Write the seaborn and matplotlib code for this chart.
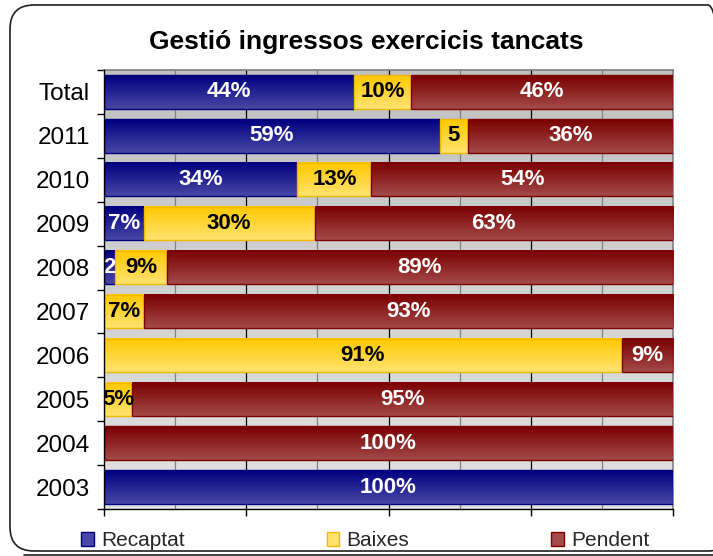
import numpy as np
import pandas as pd
import seaborn as sns
import matplotlib
matplotlib.use("Agg")
import matplotlib.pyplot as plt
from matplotlib.patches import FancyBboxPatch, Patch
from matplotlib.lines import Line2D
from matplotlib.transforms import IdentityTransform
from matplotlib.colors import to_rgb

# ---- data -------------------------------------------------------------
categories = ["Total", "2011", "2010", "2009", "2008", "2007", "2006", "2005", "2004", "2003"]
recaptat = [44, 59, 34, 7, 2, 0, 0, 0, 0, 100]
baixes = [10, 5, 13, 30, 9, 7, 91, 5, 0, 0]
pendent = [46, 36, 54, 63, 89, 93, 9, 95, 100, 0]
labels_recaptat = ["44%", "59%", "34%", "7%", "2", "", "", "", "", "100%"]
labels_baixes = ["10%", "5", "13%", "30%", "9%", "7%", "91%", "5%", "", ""]
labels_pendent = ["46%", "36%", "54%", "63%", "89%", "93%", "9%", "95%", "100%", ""]
series_names = ["Recaptat", "Baixes", "Pendent"]
title = "Gestió ingressos exercicis tancats"

# gradient (top, bottom) and edge colours for each series
grad_colors = {
    "Recaptat": ("#000080", "#4848a6"),
    "Baixes": ("#ffc800", "#ffe270"),
    "Pendent": ("#7a0000", "#a44a4a"),
}
edge_colors = {"Recaptat": "#000080", "Baixes": "#f2b800", "Pendent": "#800000"}
text_colors = {"Recaptat": "white", "Baixes": "black", "Pendent": "white"}

sns.set_theme(style="white")
plt.rcParams["font.family"] = ["Liberation Sans", "DejaVu Sans"]

W, H = 713, 556
fig = plt.figure(figsize=(W / 100, H / 100), dpi=100)
ax = fig.add_axes([104 / W, 1 - 509 / H, 569 / W, 439 / H])

df = pd.DataFrame({
    "categoria": categories,
    "Recaptat": recaptat,
    "Baixes": baixes,
    "Pendent": pendent,
})
series_labels = {"Recaptat": labels_recaptat, "Baixes": labels_baixes, "Pendent": labels_pendent}

bar_width = 0.76
left = np.zeros(len(categories))
layers = []
for name in series_names:
    n_before = len(ax.patches)
    sns.barplot(data=df, x=name, y="categoria", order=categories, orient="h",
                color=grad_colors[name][0], saturation=1, width=bar_width,
                left=left.copy(), edgecolor=edge_colors[name], linewidth=1.0, ax=ax)
    layers.append((name, ax.patches[n_before:]))
    left = left + df[name].to_numpy()

ax.set_xlim(0, 100)
ax.set_ylim(len(categories) - 0.5, -0.5)

# vertical gradient fill for every bar segment
def gradient(top, bottom, n=64):
    t = np.linspace(0, 1, n)[:, None]
    c0, c1 = np.array(to_rgb(top)), np.array(to_rgb(bottom))
    return (c0[None, None, :] * (1 - t[..., None]) + c1[None, None, :] * t[..., None])

for k, (name, patches) in enumerate(layers):
    img = gradient(*grad_colors[name])
    for p, lab in zip(patches, series_labels[name]):
        w = p.get_width()
        if w <= 0:
            p.set_visible(False)
            continue
        x0, y0, h = p.get_x(), p.get_y(), p.get_height()
        ax.imshow(img, extent=(x0, x0 + w, y0 + h, y0), origin="upper",
                  aspect="auto", interpolation="bilinear", zorder=3 + k * 0.1)
        p.set_facecolor("none")
        p.set_zorder(3.05 + k * 0.1)
        if lab:
            ax.text(min(x0 + w / 2, (x0 + 100) / 2), y0 + h / 2, lab,
                    ha="center", va="center", fontsize=16, fontweight="bold",
                    color=text_colors[name], zorder=5)

ax.set_xlim(0, 100)
ax.set_ylim(len(categories) - 0.5, -0.5)

# plot area background: soft grey gradient
bg = gradient("#c0c0c0", "#e2e2e2")
ax.imshow(bg, extent=(0, 1, 0, 1), transform=ax.transAxes, origin="upper",
          aspect="auto", zorder=0)
ax.set_xlim(0, 100)
ax.set_ylim(len(categories) - 0.5, -0.5)

# vertical gridlines every 12.5 %
for gx in np.arange(12.5, 100, 12.5):
    major = abs(gx % 25) < 1e-9
    ax.axvline(gx, color="black" if major else "#808080", lw=0.9, zorder=1)

# axes, ticks and labels
ax.set_xlabel("")
ax.set_ylabel("")
ax.set_xticks([0, 25, 50, 75, 100])
ax.set_xticklabels([])
ax.set_yticks(range(len(categories)))
ax.set_yticklabels(categories, fontsize=17.5, color="black")
ax.set_yticks(np.arange(-0.5, len(categories), 1), minor=True)
ax.tick_params(axis="y", which="major", length=0, pad=10)
ax.tick_params(axis="y", which="minor", length=5, width=1, color="black", direction="out", left=True)
ax.tick_params(axis="x", which="major", length=5, width=1, color="black", direction="out", bottom=True)
for side in ["left", "bottom"]:
    ax.spines[side].set_visible(True)
    ax.spines[side].set_color("black")
    ax.spines[side].set_linewidth(1)
for side in ["top", "right"]:
    ax.spines[side].set_visible(True)
    ax.spines[side].set_color("#808080")
    ax.spines[side].set_linewidth(1.2)
ax.spines["left"].set_zorder(6)

# title
fig.text(366 / W, 1 - 42 / H, title, ha="center", va="center",
         fontsize=19, fontweight="bold", color="black")

# legend
handles = [Patch(facecolor=grad_colors[n][1], edgecolor=edge_colors[n], lw=1) for n in series_names]
fig.legend(handles, series_names, loc="center left", bbox_to_anchor=(81 / W, 1 - 541 / H),
           ncol=3, frameon=False, fontsize=15, handlelength=0.62, handleheight=0.62,
           handletextpad=0.35, columnspacing=6.8, borderpad=0, borderaxespad=0)

# rounded chart frame with a bottom shadow line
frame = FancyBboxPatch((10, H - 551), 722, 546, boxstyle="round,pad=0,rounding_size=24",
                       transform=IdentityTransform(), facecolor="none",
                       edgecolor="#202020", lw=1.2, zorder=10)
fig.patches.append(frame)
fig.lines.append(Line2D([24, W], [H - 554.5, H - 554.5], transform=IdentityTransform(),
                        color="#202020", lw=1.2))

fig.savefig("out.png", dpi=100)
